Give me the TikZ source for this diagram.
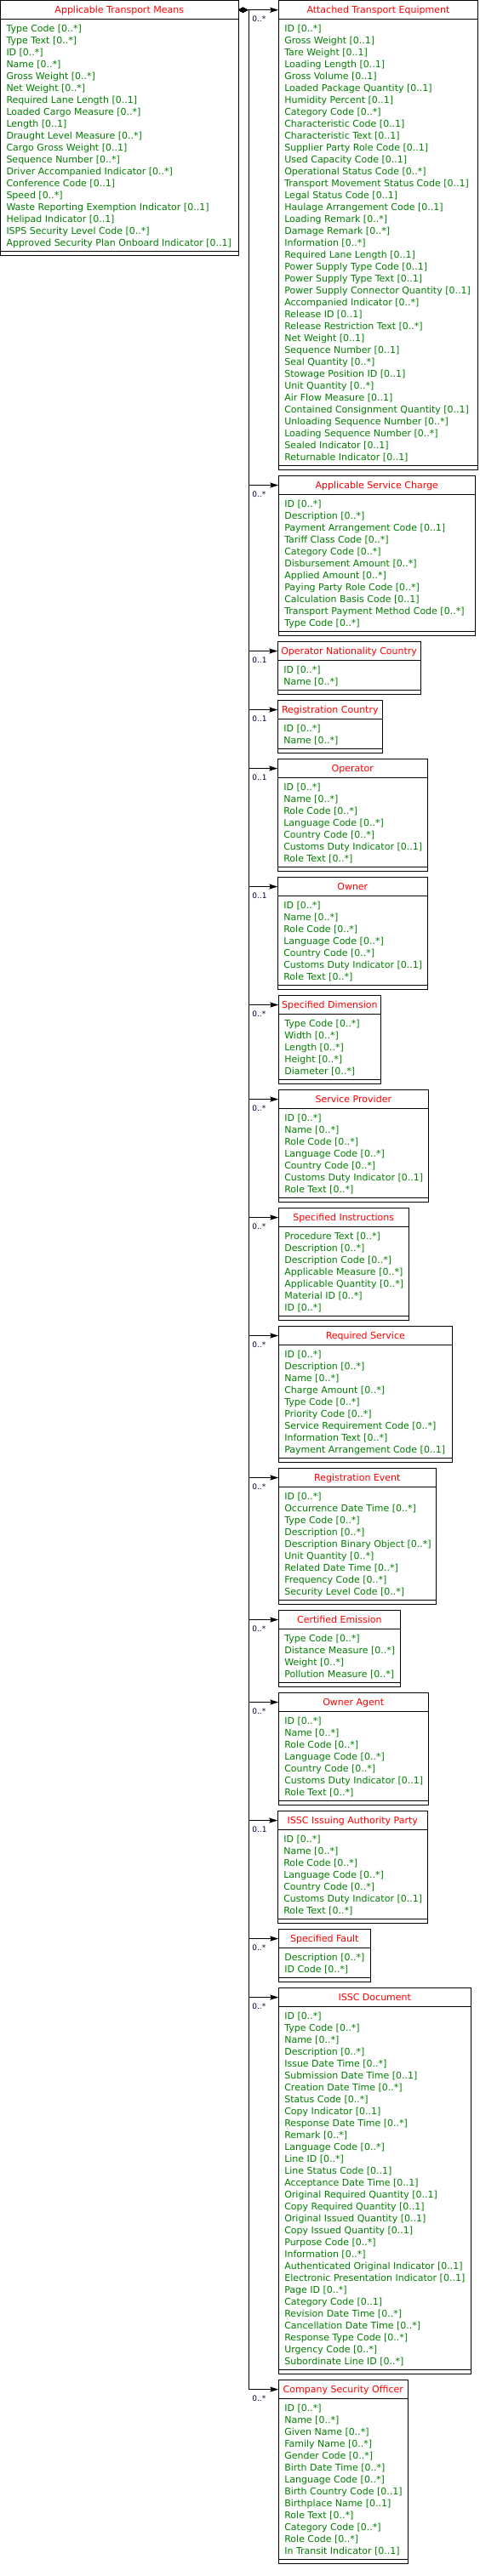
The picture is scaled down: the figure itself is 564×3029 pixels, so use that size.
\documentclass[tikz,border=0pt]{standalone}
\usepackage{fontspec}
\setmainfont{DejaVu Sans}
\usetikzlibrary{arrows.meta,calc}
\definecolor{ttl}{RGB}{255,0,0}
\definecolor{att}{RGB}{0,128,0}
\definecolor{mlt}{RGB}{0,0,64}
\tikzset{
 box/.style={draw, line width=1pt, inner sep=0pt, outer sep=0pt, rectangle},
 titlebox/.style={box, minimum height=22.5pt, text=ttl, font=\fontsize{11}{14}\selectfont, text height=7.5pt, text depth=0.5pt},
 bodybox/.style={box},
 opsbox/.style={box, minimum height=5pt},
 attr/.style={text=att, font=\fontsize{11}{14}\selectfont, inner sep=0pt, outer sep=0pt},
 mult/.style={text=mlt, font=\fontsize{9}{10}\selectfont, inner sep=0pt, outer sep=0pt},
 conn/.style={line width=1pt, {Diamond[length=11pt,width=6pt]}-{Stealth[length=10pt,width=6pt,inset=1.5pt]}},
}
% #1 name #2 xl #3 xr #4 top #5 n #6 title #7 attrs
\newcommand\umlclass[7]{%
 \pgfmathsetmacro\ubodyh{20.5+14*(#5-1)}%
 \pgfmathsetmacro\uwidth{#3-#2}%
 \node[titlebox, minimum width=\uwidth pt, anchor=north west] (#1) at (#2,#4) {#6};
 \node[bodybox, minimum width=\uwidth pt, minimum height=\ubodyh pt, anchor=north west] (#1-body) at (#1.south west) {};
 \node[opsbox, minimum width=\uwidth pt, anchor=north west] (#1-ops) at (#1-body.south west) {};
 \foreach \t [count=\i] in {#7} {\node[attr, anchor=base west] (#1-a\i) at ({#2+7},{#4+37+14*(\i-1)}) {\t};}
}
\newcommand\uconn[2]{%
 \draw[conn] (atm.east) -- (atm.east -| trunk) |- (#1.west);
 \node[mult, anchor=base west] (#1-m) at ($(trunk |- #1.west)+(4,14)$) {#2};
}
\begin{document}
\begin{tikzpicture}[x=1pt,y=-1pt]
\path[use as bounding box, fill=white] (0,0) rectangle (564,3029);
\coordinate (trunk) at (292.3,0);
\umlclass{atm}{0.5}{280}{0.5}{19}{Applicable Transport Means}{Type Code [0..*], Type Text [0..*], ID [0..*], Name [0..*], Gross Weight [0..*], Net Weight [0..*], Required Lane Length [0..1], Loaded Cargo Measure [0..*], Length [0..1], Draught Level Measure [0..*], Cargo Gross Weight [0..1], Sequence Number [0..*], Driver Accompanied Indicator [0..*], Conference Code [0..1], Speed [0..*], Waste Reporting Exemption Indicator [0..1], Helipad Indicator [0..1], ISPS Security Level Code [0..*], Approved Security Plan Onboard Indicator [0..1]}
\umlclass{ate}{327.3}{561.5}{0.5}{37}{Attached Transport Equipment}{ID [0..*], Gross Weight [0..1], Tare Weight [0..1], Loading Length [0..1], Gross Volume [0..1], Loaded Package Quantity [0..1], Humidity Percent [0..1], Category Code [0..*], Characteristic Code [0..1], Characteristic Text [0..1], Supplier Party Role Code [0..1], Used Capacity Code [0..1], Operational Status Code [0..*], Transport Movement Status Code [0..1], Legal Status Code [0..1], Haulage Arrangement Code [0..1], Loading Remark [0..*], Damage Remark [0..*], Information [0..*], Required Lane Length [0..1], Power Supply Type Code [0..1], Power Supply Type Text [0..1], Power Supply Connector Quantity [0..1], Accompanied Indicator [0..*], Release ID [0..1], Release Restriction Text [0..*], Net Weight [0..1], Sequence Number [0..1], Seal Quantity [0..*], Stowage Position ID [0..1], Unit Quantity [0..*], Air Flow Measure [0..1], Contained Consignment Quantity [0..1], Unloading Sequence Number [0..*], Loading Sequence Number [0..*], Sealed Indicator [0..1], Returnable Indicator [0..1]}
\umlclass{asc}{327.3}{558.3}{559.3}{11}{Applicable Service Charge}{ID [0..*], Description [0..*], Payment Arrangement Code [0..1], Tariff Class Code [0..*], Category Code [0..*], Disbursement Amount [0..*], Applied Amount [0..*], Paying Party Role Code [0..*], Calculation Basis Code [0..1], Transport Payment Method Code [0..*], Type Code [0..*]}
\umlclass{onc}{326.3}{494}{754.3}{2}{Operator Nationality Country}{ID [0..*], Name [0..*]}
\umlclass{rc}{326.3}{449.3}{823.3}{2}{Registration Country}{ID [0..*], Name [0..*]}
\umlclass{op}{326.3}{502.3}{892.3}{7}{Operator}{ID [0..*], Name [0..*], Role Code [0..*], Language Code [0..*], Country Code [0..*], Customs Duty Indicator [0..1], Role Text [0..*]}
\umlclass{ow}{326.3}{502.3}{1031.3}{7}{Owner}{ID [0..*], Name [0..*], Role Code [0..*], Language Code [0..*], Country Code [0..*], Customs Duty Indicator [0..1], Role Text [0..*]}
\umlclass{sd}{327.3}{447.3}{1170.3}{5}{Specified Dimension}{Type Code [0..*], Width [0..*], Length [0..*], Height [0..*], Diameter [0..*]}
\umlclass{sp}{327.3}{503.3}{1281.3}{7}{Service Provider}{ID [0..*], Name [0..*], Role Code [0..*], Language Code [0..*], Country Code [0..*], Customs Duty Indicator [0..1], Role Text [0..*]}
\umlclass{si}{327.3}{480.3}{1420.3}{7}{Specified Instructions}{Procedure Text [0..*], Description [0..*], Description Code [0..*], Applicable Measure [0..*], Applicable Quantity [0..*], Material ID [0..*], ID [0..*]}
\umlclass{rs}{327.3}{531.3}{1559.3}{9}{Required Service}{ID [0..*], Description [0..*], Name [0..*], Charge Amount [0..*], Type Code [0..*], Priority Code [0..*], Service Requirement Code [0..*], Information Text [0..*], Payment Arrangement Code [0..1]}
\umlclass{re}{327.3}{512.3}{1726.3}{9}{Registration Event}{ID [0..*], Occurrence Date Time [0..*], Type Code [0..*], Description [0..*], Description Binary Object [0..*], Unit Quantity [0..*], Related Date Time [0..*], Frequency Code [0..*], Security Level Code [0..*]}
\umlclass{ce}{327.3}{470.3}{1893.3}{4}{Certified Emission}{Type Code [0..*], Distance Measure [0..*], Weight [0..*], Pollution Measure [0..*]}
\umlclass{oa}{327.3}{503.3}{1990.3}{7}{Owner Agent}{ID [0..*], Name [0..*], Role Code [0..*], Language Code [0..*], Country Code [0..*], Customs Duty Indicator [0..1], Role Text [0..*]}
\umlclass{iap}{326.3}{502.3}{2129.3}{7}{ISSC Issuing Authority Party}{ID [0..*], Name [0..*], Role Code [0..*], Language Code [0..*], Country Code [0..*], Customs Duty Indicator [0..1], Role Text [0..*]}
\umlclass{sf}{327.3}{435.3}{2268.3}{2}{Specified Fault}{Description [0..*], ID Code [0..*]}
\umlclass{doc}{327.3}{553.3}{2337.3}{30}{ISSC Document}{ID [0..*], Type Code [0..*], Name [0..*], Description [0..*], Issue Date Time [0..*], Submission Date Time [0..1], Creation Date Time [0..*], Status Code [0..*], Copy Indicator [0..1], Response Date Time [0..*], Remark [0..*], Language Code [0..*], Line ID [0..*], Line Status Code [0..1], Acceptance Date Time [0..1], Original Required Quantity [0..1], Copy Required Quantity [0..1], Original Issued Quantity [0..1], Copy Issued Quantity [0..1], Purpose Code [0..*], Information [0..*], Authenticated Original Indicator [0..1], Electronic Presentation Indicator [0..1], Page ID [0..*], Category Code [0..1], Revision Date Time [0..*], Cancellation Date Time [0..*], Response Type Code [0..*], Urgency Code [0..*], Subordinate Line ID [0..*]}
\umlclass{cso}{327.3}{479.3}{2798.3}{13}{Company Security Officer}{ID [0..*], Name [0..*], Given Name [0..*], Family Name [0..*], Gender Code [0..*], Birth Date Time [0..*], Language Code [0..*], Birth Country Code [0..1], Birthplace Name [0..1], Role Text [0..*], Category Code [0..*], Role Code [0..*], In Transit Indicator [0..1]}
\uconn{ate}{0..*}
\uconn{asc}{0..*}
\uconn{onc}{0..1}
\uconn{rc}{0..1}
\uconn{op}{0..1}
\uconn{ow}{0..1}
\uconn{sd}{0..*}
\uconn{sp}{0..*}
\uconn{si}{0..*}
\uconn{rs}{0..*}
\uconn{re}{0..*}
\uconn{ce}{0..*}
\uconn{oa}{0..*}
\uconn{iap}{0..1}
\uconn{sf}{0..*}
\uconn{doc}{0..*}
\uconn{cso}{0..*}
\end{tikzpicture}
\end{document}
